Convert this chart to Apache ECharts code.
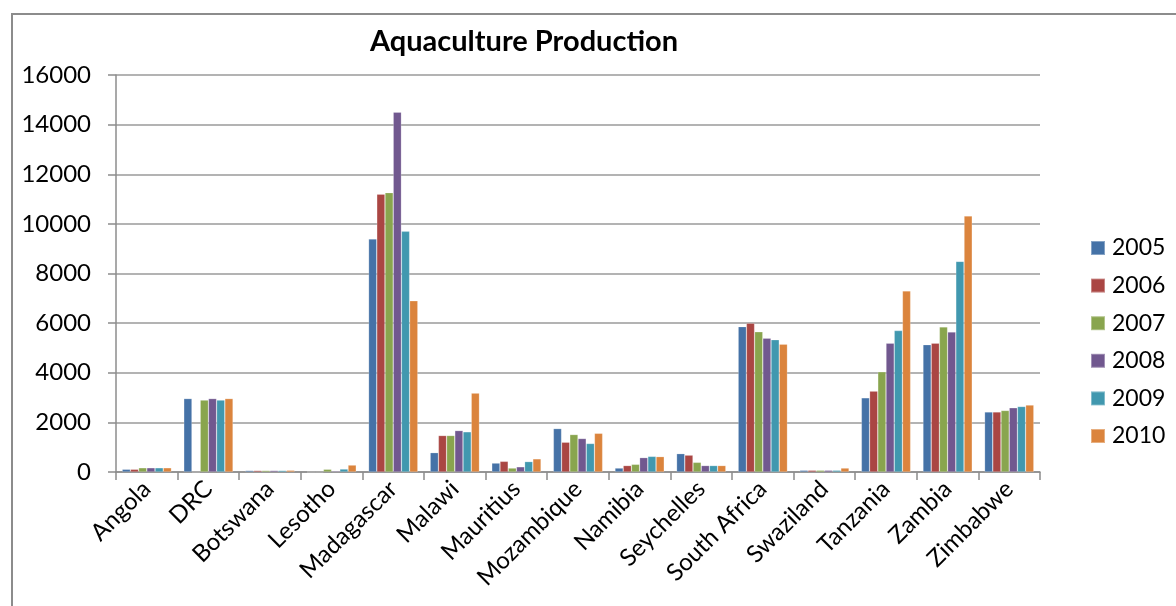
<!DOCTYPE html>
<html>
<head>
<meta charset="utf-8">
<script src="https://cdn.jsdelivr.net/npm/echarts@6/dist/echarts.min.js"></script>
<style>
  html, body { margin: 0; padding: 0; background: #fff; overflow: hidden; }
  #frame {
    position: absolute; left: 11px; top: 13px;
    width: 1200px; height: 640px;
    border: 2px solid #8c8c8c; box-sizing: border-box;
  }
  #chart { position: absolute; left: 0; top: 0; width: 1176px; height: 606px; }
</style>
</head>
<body>
<div id="frame"></div>
<div id="chart"></div>
<script>
// categories (countries)
const countries = ['Angola', 'DRC', 'Botswana', 'Lesotho', 'Madagascar', 'Malawi', 'Mauritius',
  'Mozambique', 'Namibia', 'Seychelles', 'South Africa', 'Swaziland', 'Tanzania', 'Zambia', 'Zimbabwe']

// production per year, same order as countries
const y2005 = [110, 2960, 60, 0, 9390, 780, 360, 1750, 160, 740, 5860, 70, 2990, 5130, 2420]
const y2006 = [110, 0, 60, 0, 11200, 1470, 430, 1200, 260, 680, 6000, 70, 3260, 5190, 2420]
const y2007 = [170, 2900, 60, 110, 11260, 1470, 160, 1510, 310, 390, 5650, 70, 4040, 5850, 2480]
const y2008 = [170, 2960, 60, 40, 14500, 1670, 210, 1350, 580, 260, 5390, 70, 5190, 5640, 2590]
const y2009 = [170, 2900, 60, 120, 9700, 1620, 420, 1150, 630, 260, 5330, 70, 5700, 8490, 2640]
const y2010 = [170, 2960, 70, 280, 6900, 3180, 530, 1560, 620, 260, 5150, 160, 7300, 10320, 2700]

const years = ['2005', '2006', '2007', '2008', '2009', '2010']
const yearData = [y2005, y2006, y2007, y2008, y2009, y2010]
const colors = ['#4572A7', '#AA4643', '#89A54E', '#71588F', '#4198AF', '#DB843D']

const font = 'Lato, "Open Sans", sans-serif'

const chart = echarts.init(document.getElementById('chart'))

chart.setOption({
  animation: false,
  color: colors,
  title: {
    text: 'Aquaculture Production',
    left: 519,
    top: 22,
    textAlign: 'center',
    textStyle: { fontFamily: font, fontSize: 29, fontWeight: 'bold', color: '#000' }
  },
  legend: {
    orient: 'vertical',
    left: 1090,
    top: 236,
    padding: 0,
    itemWidth: 14,
    itemHeight: 14,
    itemGap: 13.6,
    icon: 'rect',
    textStyle: { fontFamily: font, fontSize: 23, lineHeight: 24, color: '#000', padding: [0, 0, 0, 2] },
    data: years
  },
  grid: { left: 116, right: 136, top: 75, bottom: 134, containLabel: false },
  xAxis: {
    type: 'category',
    data: countries,
    axisLine: { lineStyle: { color: '#8c8c8c', width: 1.5 } },
    axisTick: { show: true, length: 8, lineStyle: { color: '#8c8c8c', width: 1.5 } },
    axisLabel: {
      rotate: 45, margin: 13, color: '#000',
      fontFamily: font, fontSize: 24, interval: 0
    }
  },
  yAxis: {
    type: 'value',
    min: 0,
    max: 16000,
    interval: 2000,
    axisLine: { show: true, lineStyle: { color: '#8c8c8c', width: 1.5 } },
    axisTick: { show: true, length: 8, lineStyle: { color: '#8c8c8c', width: 1.5 } },
    axisLabel: {
      margin: 25, color: '#000', fontFamily: font, fontSize: 24,
      formatter: (v) => String(v)
    },
    splitLine: { lineStyle: { color: '#9a9a9a', width: 1.5 } }
  },
  series: years.map((name, i) => ({
    name: name,
    type: 'bar',
    data: yearData[i],
    barGap: '0%',
    barCategoryGap: '20%',
    itemStyle: { borderColor: 'rgba(255,255,255,0.35)', borderWidth: 0.6 }
  }))
})
</script>
</body>
</html>
